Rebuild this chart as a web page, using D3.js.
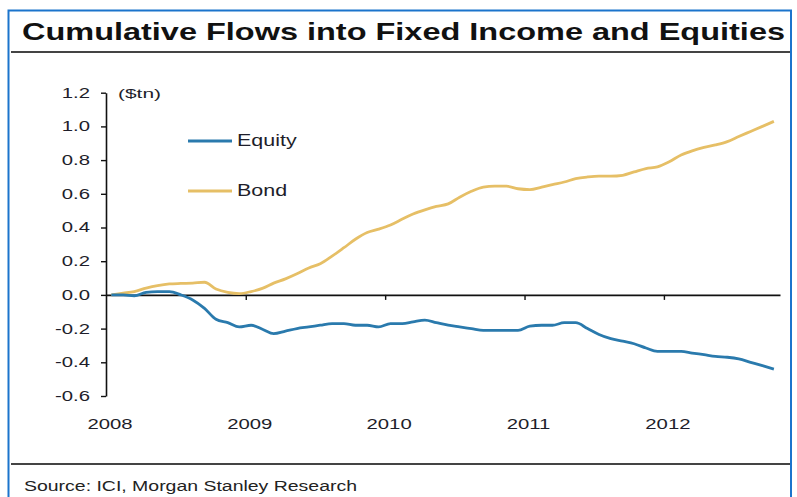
<!DOCTYPE html>
<html>
<head>
<meta charset="utf-8">
<script src="https://cdn.jsdelivr.net/npm/d3@7/dist/d3.min.js"></script>
<style>
  html, body { margin: 0; padding: 0; background: #fff; }
  svg { display: block; font-family: "Liberation Sans", Arial, sans-serif; }
</style>
</head>
<body>
<svg id="chart" width="797" height="497"></svg>
<script>
// Monthly cumulative flows, Jan 2008 – Oct 2012 ($tn)
const months = d3.range(0, 58).map(i => new Date(2008, i, 15));
const equity = [
  0.0, 0.0, -0.005, 0.015, 0.02, 0.02, 0.0, -0.03, -0.08, -0.145, -0.165, -0.19,
  -0.18, -0.205, -0.23, -0.215, -0.2, -0.19, -0.18, -0.17, -0.17, -0.18, -0.18, -0.19,
  -0.17, -0.17, -0.16, -0.15, -0.165, -0.18, -0.19, -0.2, -0.21, -0.21, -0.21, -0.21,
  -0.185, -0.18, -0.18, -0.165, -0.165, -0.2, -0.235, -0.26, -0.275, -0.29, -0.315, -0.335,
  -0.335, -0.335, -0.345, -0.355, -0.365, -0.37, -0.38, -0.4, -0.42, -0.44
];
const bond = [
  0.0, 0.01, 0.02, 0.04, 0.055, 0.065, 0.068, 0.07, 0.075, 0.035, 0.015, 0.008,
  0.02, 0.04, 0.07, 0.095, 0.125, 0.16, 0.185, 0.23, 0.28, 0.33, 0.37, 0.39,
  0.415, 0.45, 0.48, 0.505, 0.525, 0.54, 0.58, 0.615, 0.64, 0.645, 0.645, 0.63,
  0.625, 0.64, 0.655, 0.67, 0.69, 0.7, 0.705, 0.705, 0.71, 0.73, 0.75, 0.76,
  0.79, 0.83, 0.855, 0.875, 0.89, 0.91, 0.94, 0.97, 1.0, 1.03
];
const seriesNames = ["Equity", "Bond"];
const seriesColors = ["#2a7aad", "#e6bf66"];
const yTicks = [1.2, 1.0, 0.8, 0.6, 0.4, 0.2, 0.0, -0.2, -0.4, -0.6];
const yTickLabels = ["1.2", "1.0", "0.8", "0.6", "0.4", "0.2", "0.0", "-0.2", "-0.4", "-0.6"];
const yearTicks = [2008, 2009, 2010, 2011, 2012];

const svg = d3.select("#chart");
const textColor = "#1e1e2a";
const WIDE = 1.45; // the typeface is set wide throughout

// Widen a text selection horizontally by factor k
function widen(sel, k) {
  sel.each(function () {
    const w = this.getComputedTextLength();
    d3.select(this).attr("textLength", w * k).attr("lengthAdjust", "spacingAndGlyphs");
  });
}

// Frame
svg.append("path")
  .attr("d", "M8.5,497 V10.5 H791 V497")
  .attr("fill", "none").attr("stroke", "#1b74cc").attr("stroke-width", 2);

// Title and rules
svg.append("text")
  .attr("x", 22).attr("y", 40)
  .attr("font-size", 24).attr("font-weight", "bold").attr("fill", "#111")
  .attr("textLength", 763).attr("lengthAdjust", "spacingAndGlyphs")
  .text("Cumulative Flows into Fixed Income and Equities");

svg.append("line").attr("x1", 11).attr("x2", 790).attr("y1", 52).attr("y2", 52)
  .attr("stroke", "#444").attr("stroke-width", 2.2);
svg.append("line").attr("x1", 11).attr("x2", 790).attr("y1", 464).attr("y2", 464)
  .attr("stroke", "#444").attr("stroke-width", 2.2);

svg.append("text")
  .attr("x", 24).attr("y", 491)
  .attr("font-size", 14).attr("fill", "#222")
  .attr("textLength", 333).attr("lengthAdjust", "spacingAndGlyphs")
  .text("Source: ICI, Morgan Stanley Research");

// Scales
const x = d3.scaleTime()
  .domain([new Date(2008, 0, 1), new Date(2012, 9, 31)])
  .range([106, 780]);
const y = d3.scaleLinear().domain([-0.6, 1.2]).range([396, 92.7]);

// Y axis
const yAxis = svg.append("g")
  .attr("transform", "translate(106,0)")
  .call(d3.axisLeft(y).tickValues(yTicks)
    .tickFormat((d, i) => yTickLabels[i]).tickSizeOuter(0).tickSizeInner(5).tickPadding(11));
yAxis.select(".domain").attr("stroke", "#111").attr("stroke-width", 1.6);
yAxis.selectAll(".tick line").attr("stroke", "#111").attr("stroke-width", 1.4);
yAxis.selectAll(".tick text").attr("font-size", 14).attr("fill", textColor)
  .attr("font-family", "'Liberation Sans', Arial, sans-serif")
  .call(widen, WIDE);

// Zero line with year ticks
const yearDates = yearTicks.map(yr => new Date(yr, 0, 1));
const zeroAxis = svg.append("g")
  .attr("transform", `translate(0,${y(0)})`)
  .call(d3.axisBottom(x).tickValues(yearDates.slice(1)).tickFormat("").tickSizeOuter(0).tickSizeInner(5));
zeroAxis.select(".domain").attr("stroke", "#111").attr("stroke-width", 1.6);
zeroAxis.selectAll(".tick line").attr("stroke", "#111").attr("stroke-width", 1.4);

// Year labels below the plot
svg.append("g").selectAll("text")
  .data(yearDates)
  .join("text")
  .attr("x", d => x(d) + 4)
  .attr("y", 429)
  .attr("text-anchor", "middle")
  .attr("font-size", 14).attr("fill", textColor)
  .text(d => d.getFullYear())
  .call(widen, WIDE);

// Unit label
svg.append("text").attr("x", 118).attr("y", 98)
  .attr("font-size", 13).attr("fill", textColor)
  .attr("textLength", 43).attr("lengthAdjust", "spacingAndGlyphs")
  .text("($tn)");

// Series lines
const line = d3.line().x((d, i) => x(months[i])).y(d => y(d)).curve(d3.curveMonotoneX);
[[bond, 1], [equity, 0]].forEach(([vals, idx]) => {
  svg.append("path").datum(vals)
    .attr("fill", "none")
    .attr("stroke", seriesColors[idx])
    .attr("stroke-width", 2.8)
    .attr("stroke-linejoin", "round")
    .attr("d", line);
});

// Legend
const legend = svg.append("g");
seriesNames.forEach((name, i) => {
  const ly = 141 + i * 50;
  legend.append("line").attr("x1", 188).attr("x2", 232).attr("y1", ly).attr("y2", ly)
    .attr("stroke", seriesColors[i]).attr("stroke-width", 3);
  legend.append("text").attr("x", 237).attr("y", ly + 4.5)
    .attr("font-size", 16.5).attr("fill", textColor).text(name)
    .call(widen, 1.3);
});
</script>
</body>
</html>
